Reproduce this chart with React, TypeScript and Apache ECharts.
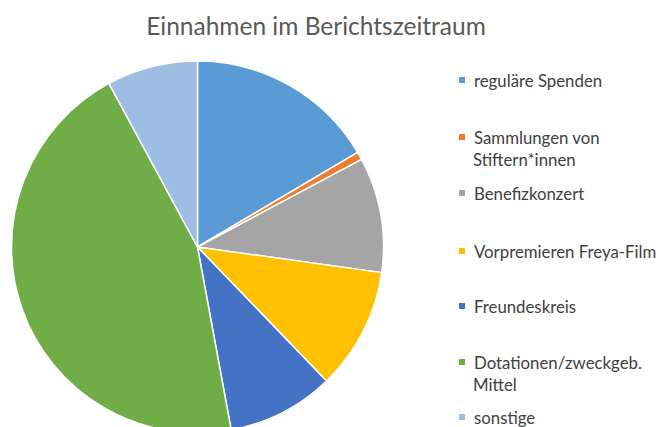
import React, { useEffect, useRef } from "react";
import * as echarts from "echarts";

const categories = [
  "reguläre Spenden",
  "Sammlungen von Stiftern*innen",
  "Benefizkonzert",
  "Vorpremieren Freya-Film",
  "Freundeskreis",
  "Dotationen/zweckgeb. Mittel",
  "sonstige",
];
const legendFirstLines = [
  "reguläre Spenden",
  "Sammlungen von",
  "Benefizkonzert",
  "Vorpremieren Freya-Film",
  "Freundeskreis",
  "Dotationen/zweckgeb.",
  "sonstige",
];
const legendSecondLines = ["", "Stiftern*innen", "", "", "", "Mittel", ""];
const values = [16.5, 0.7, 10.0, 10.6, 9.3, 45.0, 7.9];
const colors = ["#5B9BD5", "#ED7D31", "#A5A5A5", "#FFC000", "#4472C4", "#70AD47", "#9DBDE2"];
const titleText = "Einnahmen im Berichtszeitraum";

// legend text centre (first line) y positions
const legendCenters = [80, 137, 193, 251, 306, 362, 417];

const FONT = "Lato";
const FS = 16.8;
const LH = 22;

export default function App() {
  const ref = useRef<HTMLDivElement>(null);
  useEffect(() => {
    if (!ref.current) return;
    const chart = echarts.init(ref.current, null, { renderer: "svg" });
    const legends = categories.map((name, i) => ({
      orient: "vertical",
      left: 457,
      top: legendCenters[i] - LH / 2,
      padding: 0,
      itemWidth: 8,
      itemHeight: 8,
      icon: "rect",
      selectedMode: false,
      data: [name],
      formatter: () => legendFirstLines[i],
      textStyle: {
        fontFamily: FONT,
        fontSize: FS,
        color: "#404040",
        lineHeight: LH,
        padding: [0, 0, 0, 3],
      },
    }));
    const secondLines = legendSecondLines
      .map((t, i) => ({ t, i }))
      .filter((d) => d.t)
      .map((d) => ({
        type: "text",
        left: 473,
        top: legendCenters[d.i] + LH - 8,
        style: {
          text: d.t,
          fontFamily: FONT,
          fontSize: FS,
          fill: "#404040",
        },
      }));
    chart.setOption({
      animation: false,
      color: colors,
      title: {
        text: titleText,
        left: 311,
        textAlign: "center",
        top: 8,
        textStyle: {
          fontFamily: FONT,
          fontSize: 24.5,
          fontWeight: "normal",
          color: "#595959",
        },
      },
      legend: legends,
      graphic: secondLines,
      series: [
        {
          type: "pie",
          center: [197.5, 247],
          radius: 186,
          startAngle: 90,
          clockwise: true,
          label: { show: false },
          labelLine: { show: false },
          silent: true,
          itemStyle: { borderColor: "#ffffff", borderWidth: 1.5 },
          data: categories.map((name, i) => ({ name, value: values[i] })),
        },
      ],
    });
    return () => chart.dispose();
  }, []);
  return <div ref={ref} style={{ width: 660, height: 427, position: "absolute", left: 0, top: 0 }} />;
}
